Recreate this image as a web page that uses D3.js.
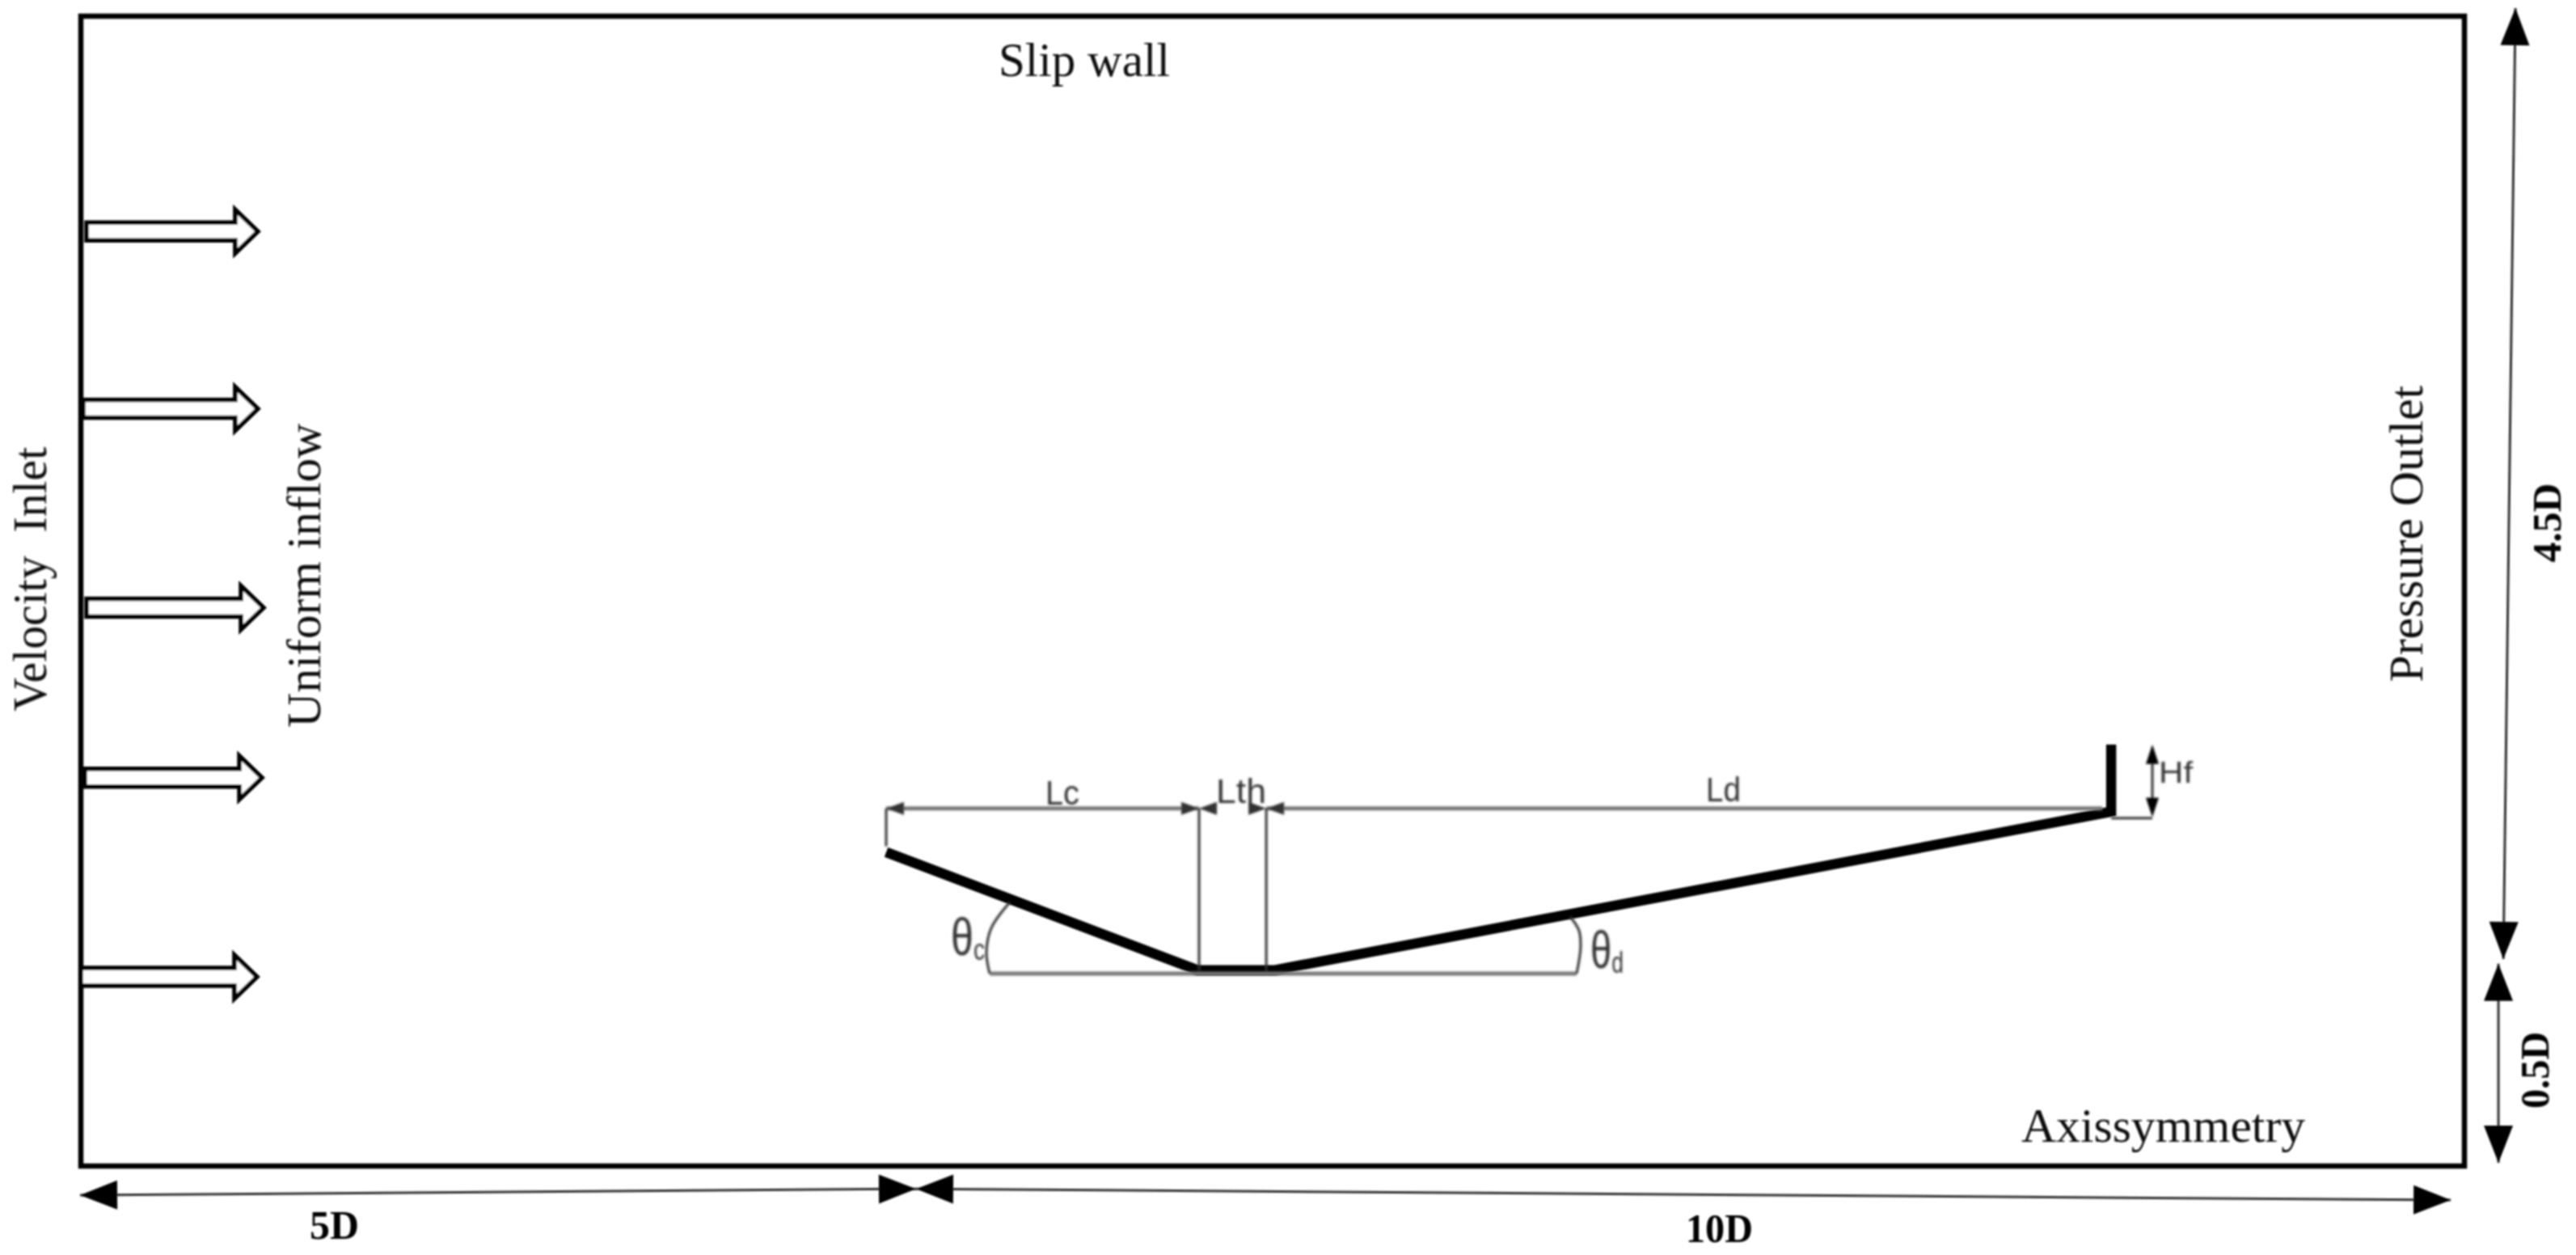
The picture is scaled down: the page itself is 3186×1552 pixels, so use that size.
<!DOCTYPE html>
<html>
<head>
<meta charset="utf-8">
<script src="https://cdn.jsdelivr.net/npm/d3@7"></script>
<style>
    html, body { margin: 0; padding: 0; background: #fff; }
    svg { display: block; }
</style>
</head>
<body>
<script>
'use strict'

// all lengths below are in nozzle diameters D, origin at the axis / inlet corner
const domainX = [0, 15]
const domainY = [0, 5]

// inflow arrows: height, tail, tip
const inflowY = [4.064, 3.293, 2.428, 1.689, 0.823]
const inflowTail = [0.036, 0.015, 0.036, 0.025, 0]
const inflowTip = [1.119, 1.119, 1.155, 1.145, 1.114]

// nacelle wall outline, inlet lip to flange top
const wallX = [5.068, 7.027, 7.515, 12.777, 12.777]
const wallY = [1.365, 0.852, 0.852, 1.541, 1.833]

// domain size arrows [x1, y1, x2, y2]
const sizeArrows = [
    [-0.005, -0.127, 5.256, -0.099],
    [5.256, -0.099, 14.914, -0.148],
    [15.321, 5.035, 15.245, 0.900],
    [15.214, 0.880, 15.214, 0.014]
]

// sketch dimension lines [x1, y1, x2, y2]
const dimLines = [
    [5.068, 1.555, 7.037, 1.555],
    [7.460, 1.555, 12.721, 1.555],
    [5.719, 0.837, 9.413, 0.837]
]
const ledgerLines = [
    [5.068, 1.555, 5.068, 1.39],
    [7.037, 1.555, 7.037, 0.852],
    [7.460, 1.555, 7.460, 0.852],
    [12.777, 1.513, 13.036, 1.513],
    [13.036, 1.80, 13.036, 1.55]
]
// small dimension heads [tip x, direction]
const dimHeadX = [5.068, 7.037, 7.037, 7.460, 7.460]
const dimHeadDir = [1, -1, 1, -1, 1]
// Hf heads [y of tip, direction]
const hfHeadY = [1.833, 1.517]
const hfHeadDir = [1, -1]
const hfX = 13.036

// angle arcs
const arcCx = [5.719, 5.699, 5.729, 5.846]
const arcCy = [0.837, 0.929, 1.034, 1.147]
const arcDx = [9.413, 9.438, 9.428, 9.373]
const arcDy = [0.837, 0.950, 1.024, 1.084]

// labels
const serifText = ['Slip wall', 'Axissymmetry']
const serifX = [5.775, 12.212]
const serifY = [4.740, 0.106]
const serifLen = [212, 351]

const sideText = ['Velocity  Inlet', 'Uniform inflow', 'Pressure Outlet']
const sideX = [-0.219, 1.506, 14.736]
const sideY = [1.977, 1.907, 2.104]
const sideLen = [327, 376, 367]

const boldText = ['5D', '10D']
const boldX = [1.440, 10.100]
const boldY = [-0.317, -0.331]
const boldLen = [61, 83]

const boldSideText = ['4.5D', '0.5D']
const boldSideX = [15.606, 15.530]
const boldSideY = [2.625, 0.250]
const boldSideLen = [98, 95]

const sketchText = ['Lc', 'Lth', 'Ld', 'Hf']
const sketchX = [6.070, 7.144, 10.227, 13.077]
const sketchY = [1.573, 1.580, 1.587, 1.668]
const sketchLen = [42, 62, 43, 42]
const sketchSize = [43, 43, 43, 36]

const angleSub = ['c', 'd']
const angleX = [5.475, 9.500]
const angleY = [0.918, 0.862]
const angleLen = [42, 41]

const width = 3186
const height = 1552

const x = d3.scaleLinear().domain(domainX).range([100, 3048])
const y = d3.scaleLinear().domain(domainY).range([1442, 20])

const svg = d3.select('body').append('svg')
    .attr('width', width)
    .attr('height', height)
    .style('background', '#fff')

const defs = svg.append('defs')
defs.append('filter').attr('id', 'soft')
    .append('feGaussianBlur').attr('stdDeviation', 0.9)
defs.append('filter').attr('id', 'softer')
    .append('feGaussianBlur').attr('stdDeviation', 1.4)

const line = d3.line()

// filled triangle with its tip at (tx, ty), pointing along angle a
function headPath(tx, ty, a, len, half) {
    const bx = tx - len * Math.cos(a)
    const by = ty - len * Math.sin(a)
    const nx = -Math.sin(a) * half
    const ny = Math.cos(a) * half
    return line([[tx, ty], [bx + nx, by + ny], [bx - nx, by - ny]]) + 'Z'
}

const main = svg.append('g').attr('filter', 'url(#soft)')

// domain frame
main.append('rect')
    .attr('x', x(0))
    .attr('y', y(5))
    .attr('width', x(15) - x(0))
    .attr('height', y(0) - y(5))
    .attr('fill', 'none')
    .attr('stroke', '#000')
    .attr('stroke-width', 6.5)

// hollow block arrows at the inlet
const shaftHalf = 11
const headHalf = 27
const headLen = 28
main.selectAll('.inflow')
    .data(inflowY)
    .enter()
    .append('path')
    .attr('class', 'inflow')
    .attr('d', (d, i) => {
        const l = x(inflowTail[i]), t = x(inflowTip[i]) - 1, c = y(d)
        const b = t - headLen
        return line([[l, c - shaftHalf], [b, c - shaftHalf], [b, c - headHalf], [t, c],
            [b, c + headHalf], [b, c + shaftHalf], [l, c + shaftHalf]]) + 'Z'
    })
    .attr('fill', '#fff')
    .attr('stroke', '#000')
    .attr('stroke-width', 5.5)

// domain size arrows
main.selectAll('.size')
    .data(sizeArrows)
    .enter()
    .append('line')
    .attr('class', 'size')
    .attr('x1', d => x(d[0]))
    .attr('y1', d => y(d[1]))
    .attr('x2', d => x(d[2]))
    .attr('y2', d => y(d[3]))
    .attr('stroke', '#333')
    .attr('stroke-width', 3)

sizeArrows.forEach(d => {
    const x1 = x(d[0]), y1 = y(d[1]), x2 = x(d[2]), y2 = y(d[3])
    const a = Math.atan2(y2 - y1, x2 - x1)
    main.append('path').attr('d', headPath(x2, y2, a, 46, 18)).attr('fill', '#000')
    main.append('path').attr('d', headPath(x1, y1, a + Math.PI, 46, 18)).attr('fill', '#000')
})

const sketch = svg.append('g').attr('filter', 'url(#softer)')

sketch.selectAll('.dim')
    .data(dimLines)
    .enter()
    .append('line')
    .attr('class', 'dim')
    .attr('x1', d => x(d[0]))
    .attr('y1', d => y(d[1]))
    .attr('x2', d => x(d[2]))
    .attr('y2', d => y(d[3]))
    .attr('stroke', '#777')
    .attr('stroke-width', 5)

sketch.selectAll('.ledger')
    .data(ledgerLines)
    .enter()
    .append('line')
    .attr('class', 'ledger')
    .attr('x1', d => x(d[0]))
    .attr('y1', d => y(d[1]))
    .attr('x2', d => x(d[2]))
    .attr('y2', d => y(d[3]))
    .attr('stroke', '#333')
    .attr('stroke-width', 3)

sketch.selectAll('.dimhead')
    .data(dimHeadX)
    .enter()
    .append('path')
    .attr('class', 'dimhead')
    .attr('d', (d, i) => headPath(x(d), y(1.555), dimHeadDir[i] > 0 ? Math.PI : 0, 22, 8))
    .attr('fill', '#333')

sketch.selectAll('.hfhead')
    .data(hfHeadY)
    .enter()
    .append('path')
    .attr('class', 'hfhead')
    .attr('d', (d, i) => headPath(x(hfX), y(d), hfHeadDir[i] > 0 ? -Math.PI / 2 : Math.PI / 2, 24, 8))
    .attr('fill', '#000')

const arc = d3.line().curve(d3.curveCatmullRom)
sketch.append('path')
    .attr('d', arc(arcCx.map((d, i) => [x(d), y(arcCy[i])])))
    .attr('fill', 'none')
    .attr('stroke', '#333')
    .attr('stroke-width', 3)
sketch.append('path')
    .attr('d', arc(arcDx.map((d, i) => [x(d), y(arcDy[i])])))
    .attr('fill', 'none')
    .attr('stroke', '#333')
    .attr('stroke-width', 3)

// nacelle wall
main.append('path')
    .attr('d', line(wallX.map((d, i) => [x(d), y(wallY[i])])))
    .attr('fill', 'none')
    .attr('stroke', '#000')
    .attr('stroke-width', 12.5)
    .attr('stroke-linejoin', 'miter')

const serif = '"Liberation Serif", serif'
const sans = '"Liberation Sans", sans-serif'

main.selectAll('.serif')
    .data(serifText)
    .enter()
    .append('text')
    .attr('class', 'serif')
    .attr('x', (d, i) => x(serifX[i]))
    .attr('y', (d, i) => y(serifY[i]))
    .attr('textLength', (d, i) => serifLen[i])
    .attr('lengthAdjust', 'spacingAndGlyphs')
    .attr('font-family', serif)
    .attr('font-size', 60)
    .attr('fill', '#111')
    .text(d => d)

main.selectAll('.side')
    .data(sideText)
    .enter()
    .append('text')
    .attr('class', 'side')
    .attr('transform', (d, i) => `translate(${x(sideX[i])},${y(sideY[i])}) rotate(-90)`)
    .attr('textLength', (d, i) => sideLen[i])
    .attr('lengthAdjust', 'spacingAndGlyphs')
    .style('white-space', 'pre')
    .attr('font-family', serif)
    .attr('font-size', 60)
    .attr('fill', '#111')
    .text(d => d)

main.selectAll('.bold')
    .data(boldText)
    .enter()
    .append('text')
    .attr('class', 'bold')
    .attr('x', (d, i) => x(boldX[i]))
    .attr('y', (d, i) => y(boldY[i]))
    .attr('textLength', (d, i) => boldLen[i])
    .attr('lengthAdjust', 'spacingAndGlyphs')
    .attr('font-family', serif)
    .attr('font-weight', 'bold')
    .attr('font-size', 50)
    .attr('fill', '#000')
    .text(d => d)

main.selectAll('.boldside')
    .data(boldSideText)
    .enter()
    .append('text')
    .attr('class', 'boldside')
    .attr('transform', (d, i) => `translate(${x(boldSideX[i])},${y(boldSideY[i])}) rotate(-90)`)
    .attr('textLength', (d, i) => boldSideLen[i])
    .attr('lengthAdjust', 'spacingAndGlyphs')
    .attr('font-family', serif)
    .attr('font-weight', 'bold')
    .attr('font-size', 50)
    .attr('fill', '#000')
    .text(d => d)

sketch.selectAll('.sketchlabel')
    .data(sketchText)
    .enter()
    .append('text')
    .attr('class', 'sketchlabel')
    .attr('x', (d, i) => x(sketchX[i]))
    .attr('y', (d, i) => y(sketchY[i]))
    .attr('textLength', (d, i) => sketchLen[i])
    .attr('lengthAdjust', 'spacingAndGlyphs')
    .attr('font-family', sans)
    .attr('font-size', (d, i) => sketchSize[i])
    .attr('fill', '#333')
    .text(d => d)

// angle symbols with their subscript in one text
const angleLabels = sketch.selectAll('.anglelabel')
    .data(angleSub)
    .enter()
    .append('text')
    .attr('class', 'anglelabel')
    .attr('x', (d, i) => x(angleX[i]))
    .attr('y', (d, i) => y(angleY[i]))
    .attr('textLength', (d, i) => angleLen[i])
    .attr('lengthAdjust', 'spacingAndGlyphs')
    .attr('font-family', sans)
    .attr('font-size', 64)
    .attr('fill', '#333')
angleLabels.append('tspan').text('θ')
angleLabels.append('tspan')
    .attr('font-size', 36)
    .attr('dy', 6)
    .text(d => d)
</script>
</body>
</html>
